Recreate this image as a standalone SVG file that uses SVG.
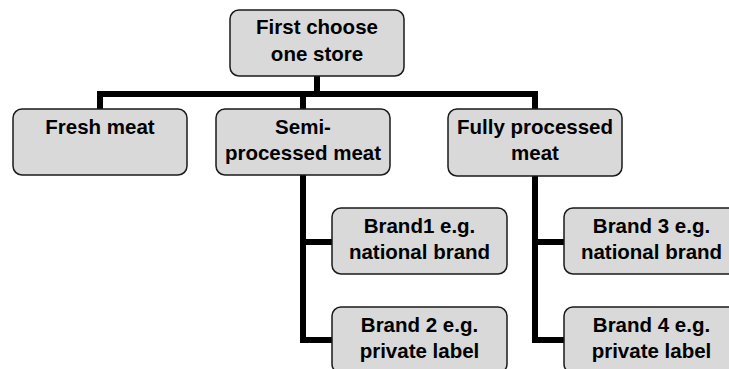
<svg xmlns="http://www.w3.org/2000/svg" width="729" height="369" viewBox="0 0 729 369">
  <style>
    .box { fill: #d9d9d9; stroke: #1a1a1a; stroke-width: 1.5; }
    .lbl { font-family: "Liberation Sans", Arial, Helvetica, sans-serif; font-weight: bold; font-size: 20.5px; fill: #000; text-anchor: middle; }
    .wire { fill: none; stroke: #000; stroke-width: 6; stroke-linejoin: miter; stroke-linecap: butt; }
  </style>
  <rect width="729" height="369" fill="#fff"/>

  <!-- connectors -->
  <g id="connectors">
    <path class="wire" d="M317,76 V94"/>
    <path class="wire" d="M100,109 V94 H535 V109"/>
    <path class="wire" d="M303,94 V109"/>
    <path class="wire" d="M303,175 V340 H332"/>
    <path class="wire" d="M303,242 H332"/>
    <path class="wire" d="M535,176 V340 H564"/>
    <path class="wire" d="M535,242 H564"/>
  </g>

  <g id="store">
    <rect class="box" x="230" y="10" width="174" height="66" rx="9"/>
    <text class="lbl" x="317" y="34">First choose</text>
    <text class="lbl" x="317" y="60.5">one store</text>
  </g>

  <g id="fresh">
    <rect class="box" x="13" y="109" width="174" height="66" rx="9"/>
    <text class="lbl" x="100" y="134">Fresh meat</text>
  </g>

  <g id="semi">
    <rect class="box" x="216" y="109" width="174" height="66" rx="9"/>
    <text class="lbl" x="303" y="133.5">Semi-</text>
    <text class="lbl" x="303" y="160">processed meat</text>
  </g>

  <g id="fully">
    <rect class="box" x="448" y="109" width="174" height="67" rx="9"/>
    <text class="lbl" x="535" y="133.5">Fully processed</text>
    <text class="lbl" x="535" y="160">meat</text>
  </g>

  <g id="brand1">
    <rect class="box" x="332" y="208" width="175" height="66" rx="9"/>
    <text class="lbl" x="419.5" y="233">Brand1 e.g.</text>
    <text class="lbl" x="419.5" y="259">national brand</text>
  </g>

  <g id="brand2">
    <rect class="box" x="332" y="307" width="175" height="66" rx="9"/>
    <text class="lbl" x="419.5" y="332">Brand 2 e.g.</text>
    <text class="lbl" x="419.5" y="358">private label</text>
  </g>

  <g id="brand3">
    <rect class="box" x="564" y="208" width="175" height="66" rx="9"/>
    <text class="lbl" x="651.5" y="233">Brand 3 e.g.</text>
    <text class="lbl" x="651.5" y="259">national brand</text>
  </g>

  <g id="brand4">
    <rect class="box" x="564" y="307" width="175" height="66" rx="9"/>
    <text class="lbl" x="651.5" y="332">Brand 4 e.g.</text>
    <text class="lbl" x="651.5" y="358">private label</text>
  </g>
</svg>
